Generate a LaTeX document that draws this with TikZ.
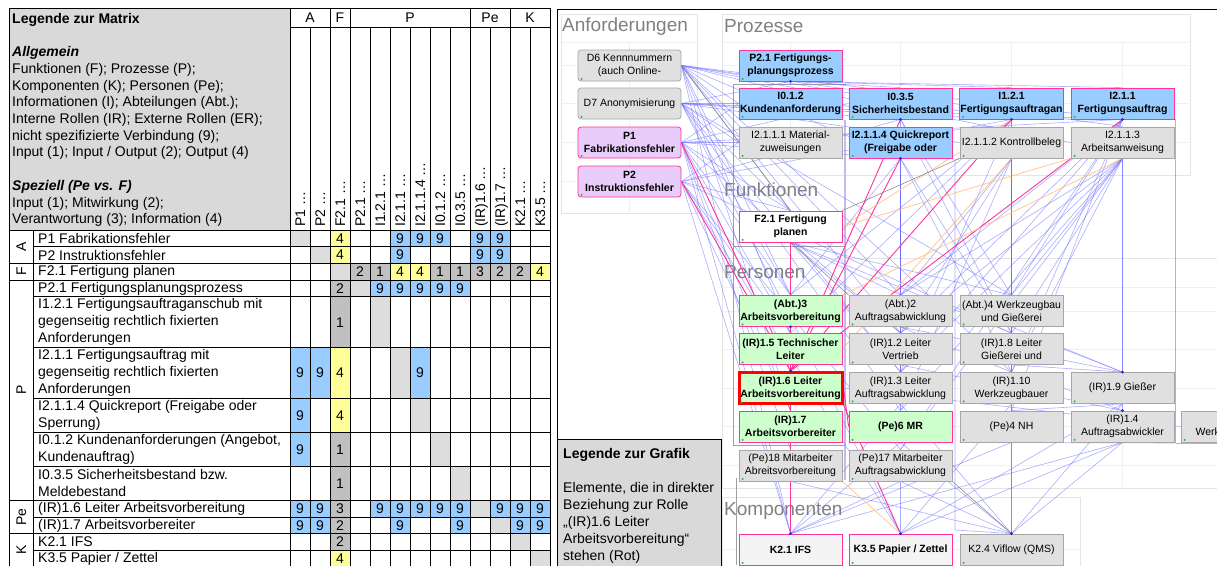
\documentclass[tikz,border=0pt]{standalone}
\usepackage{fontspec}
\setmainfont{Liberation Sans}
\usetikzlibrary{calc}

\definecolor{cellblue}{HTML}{99CCFF}
\definecolor{cellyellow}{HTML}{FFFF99}
\definecolor{celldark}{HTML}{C0C0C0}
\definecolor{celllight}{HTML}{DDDDDD}
\definecolor{legendgrey}{HTML}{D9D9D9}
\definecolor{nodegrey}{HTML}{E0E0E0}
\definecolor{nodeedge}{HTML}{A6A6A6}
\definecolor{pinkedge}{HTML}{FF3399}
\definecolor{procblue}{HTML}{99CCFF}
\definecolor{reqviolet}{HTML}{E8CCFA}
\definecolor{persgreen}{HTML}{CCFFCC}
\definecolor{compwhite}{HTML}{F4F4F4}
\definecolor{titlegrey}{HTML}{808080}
\definecolor{panelgrey}{HTML}{E4E4E4}
\definecolor{gridgrey}{HTML}{F0F0F0}
\definecolor{framegrey}{HTML}{A0A0A0}
\definecolor{framelav}{HTML}{C8B8F0}
\definecolor{linkblue}{HTML}{6A6AFF}
\definecolor{linkpink}{HTML}{FF3399}
\definecolor{linkorange}{HTML}{FFC080}
\definecolor{linkgrey}{HTML}{808080}
\definecolor{markblue}{HTML}{2020E0}
\definecolor{dotgreen}{HTML}{33AA55}

\pgfdeclarelayer{canvas}
\pgfdeclarelayer{panels}
\pgfdeclarelayer{links}
\pgfsetlayers{canvas,panels,links,main}

\newcommand\tabfont{\fontsize{14}{17}\selectfont}
\newcommand\legfont{\fontsize{14}{16.7}\selectfont}
\newcommand\gfont{\fontsize{10.5}{13}\selectfont}
\newcommand\titlefont{\fontsize{19}{22}\selectfont}

% one coloured matrix cell: row, column, top, bottom, colour, value
\newcommand\mcell[6]{%
  \fill[#5] ({270+20*#2},#3) rectangle ({290+20*#2},#4);
  \node[cellnum] (m-#1-#2) at ({280+20*#2},{(#3+#4)/2}) {#6};}

\tikzset{
  tline/.style={black, line width=0.8},
  cellnum/.style={font=\tabfont, inner sep=0},
  vhead/.style={font=\tabfont, inner sep=0, rotate=90, anchor=base west},
  grouplab/.style={font=\tabfont, inner sep=0, rotate=90, anchor=base},
  rowlab/.style={font=\tabfont, inner sep=0, anchor=west, align=left},
  gnode/.style={rectangle, minimum width=103, minimum height=31, inner sep=1,
    align=center, font=\gfont, draw=nodeedge, fill=nodegrey, line width=0.8},
  req/.style={gnode, rounded corners=3},
  reqrel/.style={req, fill=reqviolet, draw=pinkedge, font={\gfont\bfseries}},
  proc/.style={gnode, fill=procblue, draw=pinkedge, font={\gfont\bfseries}},
  func/.style={gnode, fill=white, draw=pinkedge, font={\gfont\bfseries}},
  pers/.style={gnode, fill=persgreen, draw=pinkedge, font={\gfont\bfseries}},
  focus/.style={pers, draw=red, line width=3},
  comp/.style={gnode, fill=compwhite, draw=pinkedge, font={\gfont\bfseries}},
  title/.style={anchor=west, inner sep=0, font=\titlefont, text=titlegrey},
  panel/.style={draw=panelgrey, line width=0.8},
  grid/.style={draw=gridgrey, line width=0.8},
  blink/.style={draw=linkblue, line width=0.6, opacity=0.55},
  plink/.style={draw=linkpink, line width=0.9},
  olink/.style={draw=linkorange, line width=0.8, opacity=0.85},
  glink/.style={draw=linkgrey, line width=0.5},
}

\begin{document}
\begin{tikzpicture}[x=1pt,y=-1pt]
\useasboundingbox (0,0) rectangle (1217,565);
\begin{pgfonlayer}{canvas}
  \fill[white] (0,0) rectangle (1217,565);
\end{pgfonlayer}

%% ---------------- matrix ----------------
\fill[legendgrey] (9,8) rectangle (290,230);
\node[anchor=north west, align=left, inner sep=0, font=\legfont] (legM) at (12,13)
 {\textbf{Legende zur Matrix}\\ \mbox{}\\
  \textbf{\textit{Allgemein}}\\
  Funktionen (F); Prozesse (P);\\
  Komponenten (K); Personen (Pe);\\
  Informationen (I); Abteilungen (Abt.);\\
  Interne Rollen (IR); Externe Rollen (ER);\\
  nicht spezifizierte Verbindung (9);\\
  Input (1); Input / Output (2); Output (4)\\ \mbox{}\\
  \textbf{\textit{Speziell (Pe vs. F)}}\\
  Input (1); Mitwirkung (2);\\
  Verantwortung (3); Information (4)};

% cell fills and values
\foreach \c/\s/\v in {1/celllight/{},3/cellyellow/4,6/cellblue/9,7/cellblue/9,8/cellblue/9,10/cellblue/9,11/cellblue/9}
  {\mcell{1}{\c}{230}{246.7}{\s}{\v}}
\foreach \c/\s/\v in {2/celllight/{},3/cellyellow/4,6/cellblue/9,10/cellblue/9,11/cellblue/9}
  {\mcell{2}{\c}{246.7}{263.3}{\s}{\v}}
\foreach \c/\s/\v in {3/celllight/{},4/celldark/2,5/celldark/1,6/cellyellow/4,7/cellyellow/4,8/celldark/1,9/celldark/1,10/celldark/3,11/celldark/2,12/celldark/2,13/cellyellow/4}
  {\mcell{3}{\c}{263.3}{280}{\s}{\v}}
\foreach \c/\s/\v in {3/celldark/2,4/celllight/{},5/cellblue/9,6/cellblue/9,7/cellblue/9,8/cellblue/9,9/cellblue/9}
  {\mcell{4}{\c}{280}{296.7}{\s}{\v}}
\foreach \c/\s/\v in {3/celldark/1,5/celllight/{}}
  {\mcell{5}{\c}{296.7}{347.7}{\s}{\v}}
\foreach \c/\s/\v in {1/cellblue/9,2/cellblue/9,3/cellyellow/4,6/celllight/{},7/cellblue/9}
  {\mcell{6}{\c}{347.7}{398.3}{\s}{\v}}
\foreach \c/\s/\v in {1/cellblue/9,3/cellyellow/4,7/celllight/{}}
  {\mcell{7}{\c}{398.3}{432.3}{\s}{\v}}
\foreach \c/\s/\v in {1/cellblue/9,3/celldark/1,8/celllight/{}}
  {\mcell{8}{\c}{432.3}{466.3}{\s}{\v}}
\foreach \c/\s/\v in {3/celldark/1,9/celllight/{}}
  {\mcell{9}{\c}{466.3}{500.3}{\s}{\v}}
\foreach \c/\s/\v in {1/cellblue/9,2/cellblue/9,3/celldark/3,5/cellblue/9,6/cellblue/9,7/cellblue/9,8/cellblue/9,9/cellblue/9,10/celllight/{},11/cellblue/9,12/cellblue/9,13/cellblue/9}
  {\mcell{10}{\c}{500.3}{517}{\s}{\v}}
\foreach \c/\s/\v in {1/cellblue/9,2/cellblue/9,3/celldark/2,6/cellblue/9,9/cellblue/9,11/celllight/{},12/cellblue/9,13/cellblue/9}
  {\mcell{11}{\c}{517}{533.7}{\s}{\v}}
\foreach \c/\s/\v in {3/celldark/2,12/celllight/{}}
  {\mcell{12}{\c}{533.7}{550.3}{\s}{\v}}
\foreach \c/\s/\v in {3/cellyellow/4,13/celllight/{}}
  {\mcell{13}{\c}{550.3}{567}{\s}{\v}}

% grid of the matrix
\draw[tline] (9,8) rectangle (550,567);
\draw[tline] (290,8) -- (290,567);
\draw[tline] (290,27) -- (550,27);
\foreach \xx in {330,350,470,510} \draw[tline] (\xx,8) -- (\xx,567);
\foreach \xx in {310,370,390,410,430,450,490,530} \draw[tline] (\xx,27) -- (\xx,567);
\draw[tline] (33,230) -- (33,567);
\foreach \yy in {230,263.3,280,500.3,533.7} \draw[tline] (9,\yy) -- (550,\yy);
\foreach \yy in {246.7,296.7,347.7,398.3,432.3,466.3,517,550.3} \draw[tline] (33,\yy) -- (550,\yy);

% group headers
\node[cellnum] (gh-A) at (310,17.5) {A};
\node[cellnum] (gh-F) at (340,17.5) {F};
\node[cellnum] (gh-P) at (410,17.5) {P};
\node[cellnum] (gh-Pe) at (490,17.5) {Pe};
\node[cellnum] (gh-K) at (530,17.5) {K};

% column headers
\foreach \c/\t in {1/P1 …,2/P2 …,3/F2.1 …,4/P2.1 …,5/I1.2.1 …,6/I2.1.1 …,7/I2.1.1.4 …,8/I0.1.2 …,9/I0.3.5 …,10/(IR)1.6 …,11/(IR)1.7 …,12/K2.1 …,13/K3.5 …}
  {\node[vhead] (h-\c) at ({285+20*\c},227) {\t};}

% row groups
\node[grouplab] (g-A) at (26,246.7) {A};
\node[grouplab] (g-F) at (26,271.7) {F};
\node[grouplab] (g-P) at (26,390.2) {P};
\node[grouplab] (g-Pe) at (26,517) {Pe};
\node[grouplab] (g-K) at (26,550.3) {K};

% row labels
\node[rowlab] (r-1) at (38,238.4) {P1 Fabrikationsfehler};
\node[rowlab] (r-2) at (38,255) {P2 Instruktionsfehler};
\node[rowlab] (r-3) at (38,271.7) {F2.1 Fertigung planen};
\node[rowlab] (r-4) at (38,288.4) {P2.1 Fertigungsplanungsprozess};
\node[rowlab] (r-5) at (38,322.2) {I1.2.1 Fertigungsauftraganschub mit\\gegenseitig rechtlich fixierten\\Anforderungen};
\node[rowlab] (r-6) at (38,373) {I2.1.1 Fertigungsauftrag mit\\gegenseitig rechtlich fixierten\\Anforderungen};
\node[rowlab] (r-7) at (38,415.3) {I2.1.1.4 Quickreport (Freigabe oder\\Sperrung)};
\node[rowlab] (r-8) at (38,449.3) {I0.1.2 Kundenanforderungen (Angebot,\\Kundenauftrag)};
\node[rowlab] (r-9) at (38,483.3) {I0.3.5 Sicherheitsbestand bzw.\\Meldebestand};
\node[rowlab] (r-10) at (38,508.7) {(IR)1.6 Leiter Arbeitsvorbereitung};
\node[rowlab] (r-11) at (38,525.4) {(IR)1.7 Arbeitsvorbereiter};
\node[rowlab] (r-12) at (38,542) {K2.1 IFS};
\node[rowlab] (r-13) at (38,558.7) {K3.5 Papier / Zettel};

%% ---------------- graph ----------------
% requirements
\node[req] (d6) at (629.5,65.5) {D6 Kennnummern\\(auch Online-};
\node[req] (d7) at (629.5,103.5) {D7 Anonymisierung};
\node[reqrel] (pa1) at (629.5,142.5) {P1\\Fabrikationsfehler};
\node[reqrel] (pa2) at (629.5,181.5) {P2\\Instruktionsfehler};
% processes and information
\node[proc] (p21) at (790.5,65.5) {P2.1 Fertigungs-\\planungsprozess};
\node[proc] (i012) at (790.5,103.5) {I0.1.2\\Kundenanforderung};
\node[proc] (i035) at (900.5,103.5) {I0.3.5\\Sicherheitsbestand};
\node[proc] (i121) at (1011.5,103.5) {I1.2.1\\Fertigungsauftragan};
\node[proc] (i211) at (1122.5,103.5) {I2.1.1\\Fertigungsauftrag};
\node[gnode] (i2111) at (790.5,142.5) {I2.1.1.1 Material-\\zuweisungen};
\node[proc] (i2114) at (900.5,142.5) {I2.1.1.4 Quickreport\\(Freigabe oder};
\node[gnode] (i2112) at (1011.5,142.5) {I2.1.1.2 Kontrollbeleg};
\node[gnode] (i2113) at (1122.5,142.5) {I2.1.1.3\\Arbeitsanweisung};
% functions
\node[func] (f21) at (790.5,226.5) {F2.1 Fertigung\\planen};
% persons
\node[pers] (abt3) at (790.5,311) {(Abt.)3\\Arbeitsvorbereitung};
\node[gnode] (abt2) at (900.5,311) {(Abt.)2\\Auftragsabwicklung};
\node[gnode] (abt4) at (1011.5,311) {(Abt.)4 Werkzeugbau\\und Gießerei};
\node[pers] (ir15) at (790.5,349) {(IR)1.5 Technischer\\Leiter};
\node[gnode] (ir12) at (900.5,349) {(IR)1.2 Leiter\\Vertrieb};
\node[gnode] (ir18) at (1011.5,349) {(IR)1.8 Leiter\\Gießerei und};
\node[focus] (ir16) at (790.5,388) {(IR)1.6 Leiter\\Arbeitsvorbereitung};
\node[gnode] (ir13) at (900.5,388) {(IR)1.3 Leiter\\Auftragsabwicklung};
\node[gnode] (ir110) at (1011.5,388) {(IR)1.10\\Werkzeugbauer};
\node[gnode] (ir19) at (1122.5,388) {(IR)1.9 Gießer};
\node[pers] (ir17) at (790.5,426.5) {(IR)1.7\\Arbeitsvorbereiter};
\node[pers] (pe6) at (900.5,426.5) {(Pe)6 MR};
\node[gnode] (pe4) at (1011.5,426.5) {(Pe)4 NH};
\node[gnode] (ir14) at (1122.5,426.5) {(IR)1.4\\Auftragsabwickler};
\node[gnode] (pe19) at (1232.5,426.5) {(Pe)19\\Werkzeugbauer};
\node[gnode] (pe18) at (790.5,465.5) {(Pe)18 Mitarbeiter\\Abreitsvorbereitung};
\node[gnode] (pe17) at (900.5,465.5) {(Pe)17 Mitarbeiter\\Auftragsabwicklung};
% components
\node[comp] (k21) at (790.5,549.5) {K2.1 IFS};
\node[comp] (k35) at (900.5,549.5) {K3.5 Papier / Zettel};
\node[gnode] (k24) at (1011.5,549.5) {K2.4 Viflow (QMS)};

% small status dots
\foreach \n in {d6,d7,pa1,pa2,p21,i012,i035,i121,i211,i2111,i2114,i2112,i2113,f21,abt3,abt2,abt4,ir15,ir12,ir18,ir16,ir13,ir110,ir19,ir17,pe6,pe4,ir14,pe19,pe18,pe17,k21,k35,k24}
  {\fill[dotgreen] ($(\n.south west)+(4,-2.5)$) circle (1.1);}

% end markers
\foreach \p in {p21.south,k21.north,k24.north,k35.north,i211.south,i035.south,i2114.south,i121.south,ir16.north,ir19.north,ir14.north,abt3.south}
  {\fill[markblue] (\p) circle (1.5);}

% panels and section titles
\begin{pgfonlayer}{panels}
  \draw[panel] (561,14) rectangle (697,213);
  \draw[panel] (722,14) rectangle (1190,175);
  \draw[panel] (722,258) rectangle (1217,488);
  \draw[panel] (722,497) rectangle (1080,570);
  \foreach \yy in {42.7,65.5,103.5,142.5,181.5} \draw[grid] (562,\yy) -- (696,\yy);
  \draw[grid] (629.5,42.7) -- (629.5,212);
  \foreach \yy in {42.7,65.5,103.5,142.5} \draw[grid] (723,\yy) -- (1189,\yy);
  \foreach \xx in {790.5,900.5,1011.5,1122.5} \draw[grid] (\xx,42.7) -- (\xx,174);
  \foreach \yy in {287,311,349,388,426.5,465.5} \draw[grid] (723,\yy) -- (1216,\yy);
  \foreach \xx in {790.5,900.5,1011.5,1122.5} \draw[grid] (\xx,287) -- (\xx,487);
  \draw[grid] (723,549.5) -- (1079,549.5);
  \foreach \xx in {790.5,900.5,1011.5} \draw[grid] (\xx,520) -- (\xx,565);
  \node[title] (tA) at (562,26.5) {Anforderungen};
  \node[title] (tP) at (724,26.5) {Prozesse};
  \node[title] (tF) at (724,189.5) {Funktionen};
  \node[title] (tPe) at (724,272) {Personen};
  \node[title] (tK) at (724,511) {Komponenten};
  \draw[framegrey, line width=0.7] (846,84) -- (733,84) -- (733,246) -- (846,246);
  \draw[framegrey, line width=0.7] (733,246) -- (733,445) -- (846,445);
  \draw[framegrey, line width=0.7] (736,478) -- (736,565);
  \draw[framelav, line width=1.6] (845,120) -- (845,480);
\end{pgfonlayer}

% connectors
\begin{pgfonlayer}{links}
  \foreach \s/\tl in {
    d6.east/{p21.south,i012.west,i035.south,i121.south,i211.south,i2114.south,i2113.west,f21.north,abt3.north,ir15.north,ir17.north,abt2.north,ir12.north,k21.north,ir110.north},
    d7.east/{p21.south,i012.west,i2111.west,i035.south,i211.south,i121.south,i2112.west,f21.north,abt3.north,pe6.north,ir13.north,k35.north,abt4.north},
    pa1.east/{i012.west,i2111.west,i2114.south,i211.south,i035.west,f21.north,abt3.north,ir15.north,ir17.north,pe18.north,k21.north,ir12.north},
    pa2.east/{i2111.west,i035.south,i121.south,f21.north,ir15.north,ir17.north,pe17.north,k35.north,k21.north,ir18.north},
    p21.south/{i035.north,i121.north,i211.north,i2113.north},
    i035.south/{abt4.north,ir18.north,abt2.north},
    i121.south/{abt3.north,ir15.north,ir110.north,pe4.north,ir13.north},
    i2114.south/{abt3.north,ir13.north,pe6.north,abt2.north,ir18.north,ir110.north},
    i2112.south/{abt2.north,ir12.north,abt4.north,ir18.north,pe6.north},
    i2113.south/{ir13.north,ir110.north,ir18.north,pe17.north,ir14.north,ir19.north,abt2.north,abt4.north,pe6.north,ir12.north},
    i211.south/{abt4.north,pe4.north,abt2.north,ir13.north,ir110.north,ir12.north,pe17.north},
    f21.south/{abt3.north,abt2.north,ir12.north,ir18.north,abt4.north,ir13.north},
    ir17.south/{k21.north,pe18.north},
    pe18.south/{k21.north,k24.north},
    pe17.south/{k21.north,k24.north,k35.north},
    ir14.south/{k24.north,k21.north,k35.north},
    pe4.south/{k24.north,k21.north},
    ir110.south/{k24.north,k35.north},
    ir13.south/{k24.north,k21.north},
    pe6.south/{k21.north,k24.north},
    ir19.south/{k24.north,pe4.north,k35.north},
    abt3.south/{ir15.north},
    abt2.south/{ir12.north,ir110.north,ir19.north},
    abt4.south/{ir18.north,ir19.north},
    ir18.south/{ir110.north,ir19.north},
    ir18.east/{ir19.north},
    ir12.south/{ir13.north,ir14.north},
    ir110.east/{ir14.north},
    ir16.east/{pe19.west}}
  {\foreach \t in \tl {\draw[blink] (\s) -- (\t);}}
  % routed connectors
  \coordinate (rA) at (1175.5,119);
  \coordinate (rB) at (1175.5,443);
  \coordinate (rC) at (1217,443);
  \draw[blink] (i211.south east) -- (rA) -- (rB) -- (pe4.south west);
  \draw[blink] (rB) -- (rC);
  \coordinate (vA) at (955,160);
  \coordinate (vB) at (955,530);
  \draw[blink] (i2112.south west) -- (vA) -- (vB) -- (k24.north);
  % relations of (IR)1.6
  \foreach \t in {pa1.east,pa2.east,f21.south,i2114.south,i121.south,i211.south,i035.south,ir15.south}
    {\draw[plink] (ir16.north) -- (\t);}
  \draw[plink] (ir16.south) -- (ir17.north);
  \draw[plink] (ir16.south) -- (k21.north);
  \draw[plink] (ir16.south east) -- (k35.north);
  \draw[plink] (ir16.east) -- (pe6.west);
  \draw[plink] (abt3.south) -- (ir15.north);
  % further relations
  \draw[olink] (f21.east) -- (i2113.south west);
  \draw[olink] (f21.east) -- (i121.south);
  \draw[olink] (abt3.north east) -- (i2113.south);
  \draw[olink] (ir15.east) -- (i2112.south);
  \draw[olink] (pe18.south east) -- (k35.north);
  \draw[glink] (d6.east) -- (f21.north);
  \draw[glink] (i2112.south west) -- (f21.north east);
  \draw[glink] (f21.south) -- (abt2.north west);
  \draw[glink] (pe17.south east) -- (k24.north);
\end{pgfonlayer}

% frame of the graph area
\draw[black, line width=1] (557.5,567) -- (557.5,9) -- (1217,9);

% legend of the graph
\draw[black, fill=legendgrey, line width=1] (557.5,439) rectangle (721.5,567);
\node[anchor=north west, align=left, inner sep=0, font=\tabfont] (legG) at (563,447.8)
 {\textbf{Legende zur Grafik}\\ \mbox{}\\
  Elemente, die in direkter\\
  Beziehung zur Rolle\\
  „(IR)1.6 Leiter\\
  Arbeitsvorbereitung“\\
  stehen (Rot)};
\end{tikzpicture}
\end{document}
